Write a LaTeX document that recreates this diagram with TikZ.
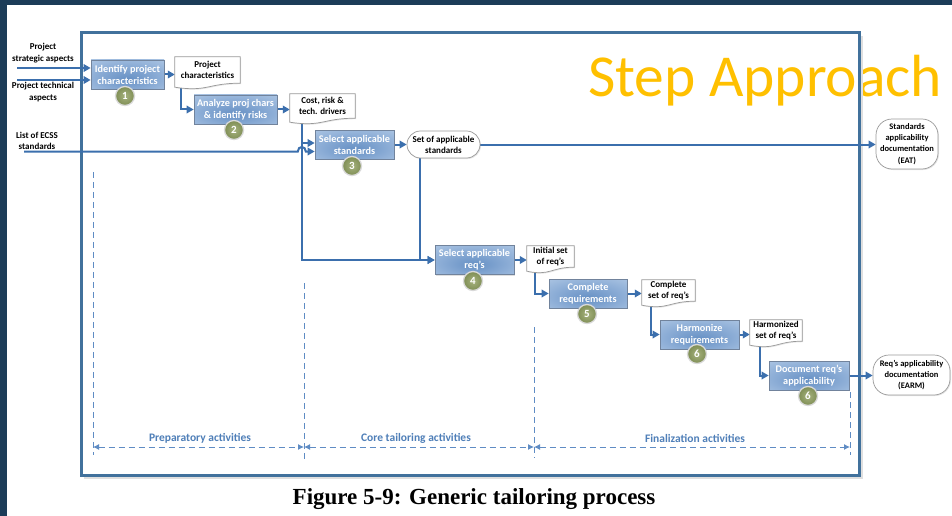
\documentclass[tikz,border=0pt]{standalone}
\usepackage{fontspec}
\setmainfont{Carlito}
\newfontfamily\capfont{Liberation Serif}
\usetikzlibrary{arrows.meta,shadows,calc}

\definecolor{slide}{HTML}{1C3C58}
\definecolor{frameblue}{HTML}{41719C}
\definecolor{wire}{HTML}{3B6FAD}
\definecolor{boxin}{HTML}{6690C4}
\definecolor{boxmid}{HTML}{8CADD6}
\definecolor{boxout}{HTML}{B5CCE7}
\definecolor{boxedge}{HTML}{71839C}
\definecolor{discin}{HTML}{A6B27E}
\definecolor{discout}{HTML}{7F8E55}
\definecolor{dashblue}{HTML}{5F8CC4}
\definecolor{labelblue}{HTML}{4F7FB8}
\definecolor{stepyellow}{HTML}{FFC000}

\pgfdeclareradialshading{boxglow}{\pgfpoint{0bp}{-8bp}}{%
  color(0bp)=(boxin); color(22bp)=(boxmid); color(45bp)=(boxout); color(80bp)=(boxout)}

\pgfdeclarelayer{page}
\pgfdeclarelayer{wires}
\pgfdeclarelayer{docs}
\pgfsetlayers{page,wires,docs,main}

\begin{document}
\begin{tikzpicture}[x=1pt,y=-1pt,
  stepbox/.style={draw=boxedge, line width=0.7pt, shading=boxglow, text=white,
    font=\bfseries\fontsize{10.2}{12}\selectfont, align=center, inner sep=1pt,
    minimum height=29pt,
    drop shadow={opacity=0.25, shadow xshift=1.2pt, shadow yshift=-1.2pt}},
  numdisc/.style={circle, draw=gray!30, line width=1.3pt, shading=radial,
    inner color=discin, outer color=discout, text=white,
    font=\bfseries\fontsize{11}{11}\selectfont, minimum size=19pt, inner sep=0pt},
  docnode/.style={font=\bfseries\fontsize{9}{11}\selectfont, align=center,
    inner sep=1pt, text=black},
  docedge/.style={draw=gray!80, fill=white, line width=0.7pt,
    drop shadow={opacity=0.2, shadow xshift=1pt, shadow yshift=-1pt}},
  termnode/.style={draw=gray!80, fill=white, line width=0.7pt, align=center,
    inner sep=1pt, text=black,
    drop shadow={opacity=0.2, shadow xshift=1pt, shadow yshift=-1pt}},
  inlabel/.style={font=\bfseries\fontsize{9}{11.5}\selectfont, align=center, inner sep=0pt},
  wire/.style={draw=wire, line width=2pt},
  flow/.style={wire, -{Triangle[length=7pt,width=7.5pt]}},
  dashline/.style={draw=dashblue, line width=1pt, dash pattern=on 6pt off 4pt},
  span/.style={dashline, {Latex[length=6pt,width=6pt]}-{Latex[length=6pt,width=6pt]}},
  phase/.style={text=labelblue, font=\bfseries\fontsize{11.5}{12}\selectfont, inner sep=0pt}
]
\useasboundingbox (0,0) rectangle (952,516);

% page, title and outer frame
\begin{pgfonlayer}{page}
  \fill[slide] (0,0) rectangle (952,516);
  \fill[white] (7,5) rectangle (952,516);
  \node[anchor=base west, text=stepyellow, font=\fontsize{59.5}{60}\selectfont, inner sep=0pt]
    (title) at (588,97) {Step Approach};
  \draw[gray!25, line width=1.5pt] (84,478) -- (862,478) -- (862,36);
  \draw[frameblue, line width=3pt] (81,33) rectangle (859,475);
  \node[anchor=base, font=\capfont\bfseries\fontsize{23}{23}\selectfont, inner sep=0pt]
    (caption) at (474,504) {Figure 5-9: Generic tailoring process};
\end{pgfonlayer}

% inputs
\node[inlabel] (in1) at (43,53) {Project\\strategic aspects};
\node[inlabel] (in2) at (43,92) {Project technical\\aspects};
\node[inlabel] (in3) at (37,141) {List of ECSS\\standards};

% process steps
\node[stepbox, minimum width=73pt] (b1) at (127.5,74.5) {Identify project\\characteristics};
\node[stepbox, minimum width=83pt] (b2) at (235.5,109.5) {Analyze proj chars\\\& identify risks};
\node[stepbox, minimum width=79pt] (b3) at (354.5,144.5) {Select applicable\\standards};
\node[stepbox, minimum width=79pt] (b4) at (474.5,260) {Select applicable\\req’s};
\node[stepbox, minimum width=78pt] (b5) at (588,293.5) {Complete\\requirements};
\node[stepbox, minimum width=79pt] (b6) at (699.5,334.5) {Harmonize\\requirements};
\node[stepbox, minimum width=80pt] (b7) at (809,375.5) {Document req’s\\applicability};

\node[numdisc] (n1) at (125,96) {1};
\node[numdisc] (n2) at (234,130) {2};
\node[numdisc] (n3) at (352,166) {3};
\node[numdisc] (n4) at (473,281) {4};
\node[numdisc] (n5) at (587,314) {5};
\node[numdisc] (n6) at (697,354) {6};
\node[numdisc] (n7) at (808,396) {6};

% intermediate documents (outline drawn on the docs layer)
\node[docnode, minimum width=65pt, minimum height=26pt] (d1) at (207.5,70) {Project\\characteristics};
\node[docnode, minimum width=65pt, minimum height=24pt] (d2) at (322.5,106) {Cost, risk \&\\tech. drivers};
\node[docnode, minimum width=47pt, minimum height=21pt] (d3) at (550.5,256.5) {Initial set\\of req’s};
\node[docnode, minimum width=53pt, minimum height=21pt] (d4) at (668.5,290.5) {Complete\\set of req’s};
\node[docnode, minimum width=52pt, minimum height=21pt] (d5) at (776,330.5) {Harmonized\\set of req’s};

% terminal outputs
\node[termnode, font=\bfseries\fontsize{9}{11}\selectfont, rounded corners=13.5pt,
  minimum width=73pt, minimum height=27pt] (t1) at (443.5,144.5) {Set of applicable\\standards};
\node[termnode, font=\bfseries\fontsize{8.5}{11.3}\selectfont, rounded corners=16pt,
  minimum width=62pt, minimum height=50pt] (t2) at (907,144) {Standards\\applicability\\documentation\\(EAT)};
\node[termnode, font=\bfseries\fontsize{8.5}{11.3}\selectfont, rounded corners=16pt,
  minimum width=77pt, minimum height=40pt] (t3) at (911.5,375) {Req’s applicability\\documentation\\(EARM)};

\begin{pgfonlayer}{docs}
  \foreach \n in {d1,d2,d3,d4,d5}{
    \draw[docedge] (\n.north west) -- (\n.north east) -- (\n.south east)
      .. controls ($(\n.south)$) and ($(\n.south)+(0,9)$) .. ($(\n.south west)+(0,4)$) -- cycle;
  }
\end{pgfonlayer}

% connectors
\coordinate (s1) at (17,68);
\coordinate (s2) at (17,80);
\coordinate (s3) at (24,151.5);
\coordinate (v1) at ([xshift=6pt]d1.south west);
\coordinate (v2) at ([xshift=12pt]d2.south west);
\coordinate (v3) at ([xshift=13pt]t1.south west);
\coordinate (v4) at ([xshift=8pt]d3.south west);
\coordinate (v5) at ([xshift=9pt]d4.south west);
\coordinate (v6) at ([xshift=10pt]d5.south west);
\coordinate (b3in) at ([yshift=1.5pt]b3.west);

\begin{pgfonlayer}{wires}
  \draw[flow] (s1) -- (s1 -| b1.west);
  \draw[flow] (s2) -- (s2 -| b1.west);
  \draw[flow] (b1.east) -- (b1.east -| d1.west);
  \draw[flow] (v1) |- (b2.west);
  \draw[flow] (b2.east) -- (b2.east -| d2.west);
  \draw[flow] (v2) |- (b4.west);
  \draw[flow] (v2 |- b3in) -- (b3in);
  \draw[flow] (s3) -- ([xshift=-4pt]s3 -| v2)
     .. controls +(0,-6) and +(0,-6) .. ([xshift=4pt]s3 -| v2) -- (s3 -| b3.west);
  \draw[flow] (b3.east) -- (b3.east -| t1.west);
  \draw[flow] (t1.east) -- (t1.east -| t2.west);
  \draw[flow] (v3) |- (b4.west);
  \draw[flow] (b4.east) -- (b4.east -| d3.west);
  \draw[flow] (v4) |- (b5.west);
  \draw[flow] (b5.east) -- (b5.east -| d4.west);
  \draw[flow] (v5) |- (b6.west);
  \draw[flow] (b6.east) -- (b6.east -| d5.west);
  \draw[flow] (v6) |- (b7.west);
  \draw[flow] (b7.east) -- (b7.east -| t3.west);
\end{pgfonlayer}

% activity phases
\coordinate (p0) at (93,447);
\coordinate (p1) at (304,447);
\coordinate (p2) at (534,447);
\coordinate (p3) at (850,447);
\begin{pgfonlayer}{wires}
  \draw[dashline] (93,172) -- (93,455);
  \draw[dashline] (304,283) -- (304,460);
  \draw[dashline] (534,327) -- (534,458);
  \draw[dashline] (850,392) -- (850,455);
  \draw[span] (p0) -- (p1);
  \draw[span] (p1) -- (p2);
  \draw[span] (p2) -- (p3);
\end{pgfonlayer}
\node[phase] (ph1) at (200,438) {Preparatory activities};
\node[phase] (ph2) at (416,438) {Core tailoring activities};
\node[phase] (ph3) at (695,438) {Finalization activities};
\end{tikzpicture}
\end{document}
